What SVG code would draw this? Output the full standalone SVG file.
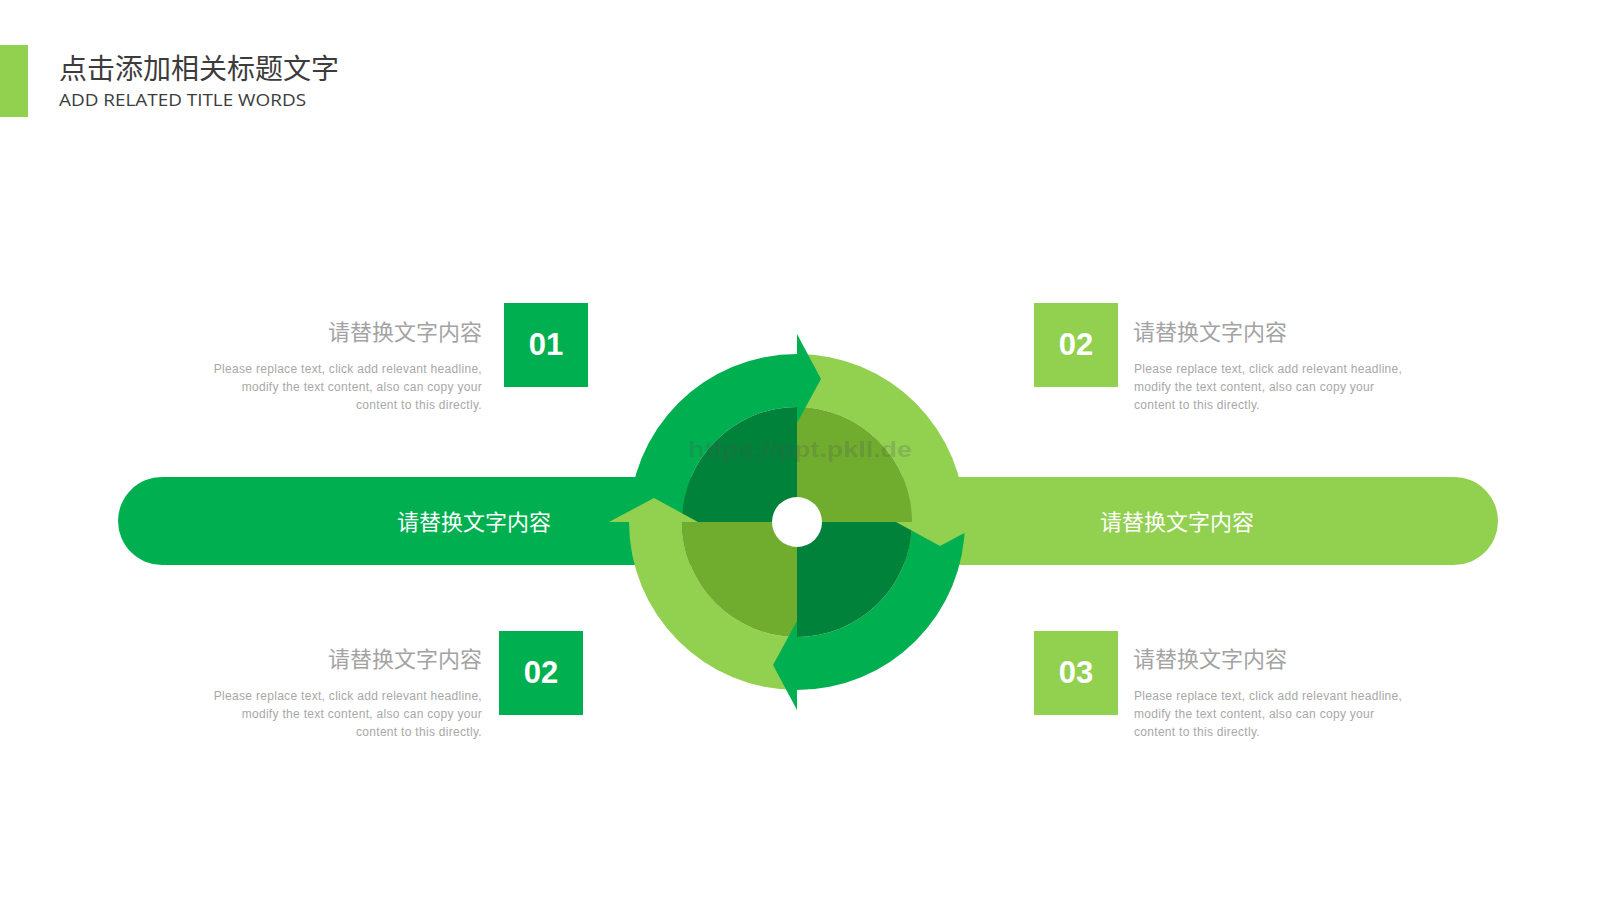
<svg xmlns="http://www.w3.org/2000/svg" xmlns:xlink="http://www.w3.org/1999/xlink" width="1600" height="900" viewBox="0 0 1600 900">
<style>
.cn{font-family:"Noto Sans CJK SC","Noto Sans",sans-serif}
.head{font-size:22px;fill:#a3a3a3}
.para{font-family:"Liberation Sans",Arial,sans-serif;font-size:12px;fill:#a8a8a8;letter-spacing:0.3px}
.num{font-family:"Liberation Sans",Arial,sans-serif;font-weight:bold;font-size:31px;fill:#ffffff}
.bartxt{font-size:22px;fill:#ffffff}
.dk{fill:#00B050}
.lt{fill:#92D050}
.qd{fill:#00823B}
.qm{fill:#70AD2F}
</style>
<defs>
<path id="seg" d="M629,522 A168,168 0 0 1 797,354 L797,407 A115,115 0 0 0 682,522 Z"/>
<path id="head" d="M797,334 L821,379 L797,423 Z"/>
</defs>
<rect width="1600" height="900" fill="#ffffff"/>
<g id="title">
<rect x="0" y="45" width="28" height="72" fill="#92D050"/>
<text x="59" y="79" class="cn" font-size="28" fill="#3c3c3c">点击添加相关标题文字</text>
<text x="59" y="106" font-family="'Open Sans','Liberation Sans',sans-serif" font-size="16" fill="#3c3c3c" textLength="247" lengthAdjust="spacingAndGlyphs">ADD RELATED TITLE WORDS</text>
</g>
<g id="bar-left">
<path class="dk" d="M162,477 H800 V565 H162 A44,44 0 0 1 162,477 Z"/>
<text x="474" y="530" class="cn bartxt" text-anchor="middle">请替换文字内容</text>
</g>
<g id="bar-right">
<path class="lt" d="M800,477 H1454 A44,44 0 0 1 1454,565 H800 Z"/>
<text x="1177" y="530" class="cn bartxt" text-anchor="middle">请替换文字内容</text>
</g>
<g id="cycle">
<use xlink:href="#seg" class="dk"/>
<use xlink:href="#seg" class="lt" transform="rotate(90 797 522)"/>
<use xlink:href="#seg" class="dk" transform="rotate(180 797 522)"/>
<use xlink:href="#seg" class="lt" transform="rotate(270 797 522)"/>
<path class="qd" d="M797,522 L682,522 A115,115 0 0 1 797,407 Z"/>
<path class="qm" d="M797,522 L797,407 A115,115 0 0 1 912,522 Z"/>
<path class="qd" d="M797,522 L912,522 A115,115 0 0 1 797,637 Z"/>
<path class="qm" d="M797,522 L797,637 A115,115 0 0 1 682,522 Z"/>
<use xlink:href="#head" class="dk"/>
<use xlink:href="#head" class="lt" transform="rotate(90 797 522)"/>
<use xlink:href="#head" class="dk" transform="rotate(180 797 522)"/>
<use xlink:href="#head" class="lt" transform="rotate(270 797 522)"/>
<circle cx="797" cy="522" r="25" fill="#ffffff"/>
<text x="688" y="457" font-family="'Liberation Sans',Arial,sans-serif" font-weight="bold" font-size="22" fill="#505050" fill-opacity="0.22" textLength="224" lengthAdjust="spacingAndGlyphs">https://ppt.pkll.de</text>
</g>
<g id="item-01">
<rect x="504" y="303" width="84" height="84" class="dk"/>
<text x="546" y="355" class="num" text-anchor="middle">01</text>
<text x="482" y="340" class="cn head" text-anchor="end">请替换文字内容</text>
<text class="para" text-anchor="end"><tspan x="482" y="373">Please replace text, click add relevant headline,</tspan><tspan x="482" y="391">modify the text content, also can copy your</tspan><tspan x="482" y="409">content to this directly.</tspan></text>
</g>
<g id="item-02-top">
<rect x="1034" y="303" width="84" height="84" class="lt"/>
<text x="1076" y="355" class="num" text-anchor="middle">02</text>
<text x="1133" y="340" class="cn head">请替换文字内容</text>
<text class="para"><tspan x="1134" y="373">Please replace text, click add relevant headline,</tspan><tspan x="1134" y="391">modify the text content, also can copy your</tspan><tspan x="1134" y="409">content to this directly.</tspan></text>
</g>
<g id="item-02-bottom">
<rect x="499" y="631" width="84" height="84" class="dk"/>
<text x="541" y="683" class="num" text-anchor="middle">02</text>
<text x="482" y="667" class="cn head" text-anchor="end">请替换文字内容</text>
<text class="para" text-anchor="end"><tspan x="482" y="700">Please replace text, click add relevant headline,</tspan><tspan x="482" y="718">modify the text content, also can copy your</tspan><tspan x="482" y="736">content to this directly.</tspan></text>
</g>
<g id="item-03">
<rect x="1034" y="631" width="84" height="84" class="lt"/>
<text x="1076" y="683" class="num" text-anchor="middle">03</text>
<text x="1133" y="667" class="cn head">请替换文字内容</text>
<text class="para"><tspan x="1134" y="700">Please replace text, click add relevant headline,</tspan><tspan x="1134" y="718">modify the text content, also can copy your</tspan><tspan x="1134" y="736">content to this directly.</tspan></text>
</g>
</svg>
